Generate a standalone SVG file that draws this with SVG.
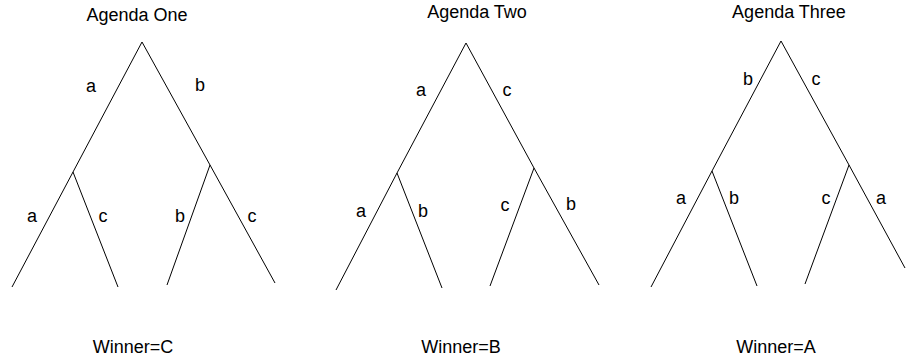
<svg xmlns="http://www.w3.org/2000/svg" width="907" height="360" viewBox="0 0 907 360">
<style>
text{font-family:"Liberation Sans",Arial,sans-serif;font-size:18px;fill:#000;text-anchor:middle}
.e{stroke:#000;stroke-width:1;fill:none}
</style>
<rect width="907" height="360" fill="#fff"/>
<g id="connectors">
<polyline class="e" points="12,287 73,172 142,42 210,165 275,283"/>
<line class="e" x1="73" y1="172" x2="118" y2="287"/>
<line class="e" x1="210" y1="165" x2="167" y2="285"/>
<polyline class="e" points="336,290 397,173 466,43 534,168 599,285"/>
<line class="e" x1="397" y1="173" x2="442" y2="288"/>
<line class="e" x1="534" y1="168" x2="490" y2="286"/>
<polyline class="e" points="651,287 712,171 781,41 849,165 905,268"/>
<line class="e" x1="712" y1="171" x2="757" y2="286"/>
<line class="e" x1="849" y1="165" x2="805" y2="284"/>
</g>
<g id="agenda-one">
<text x="137" y="21">Agenda One</text>
<text x="91" y="92">a</text>
<text x="200" y="91">b</text>
<text x="32" y="222">a</text>
<text x="103" y="222">c</text>
<text x="180" y="222">b</text>
<text x="252" y="222">c</text>
<text x="133" y="353">Winner=C</text>
</g>
<g id="agenda-two">
<text x="477" y="18">Agenda Two</text>
<text x="421" y="96">a</text>
<text x="507" y="96">c</text>
<text x="361" y="217">a</text>
<text x="423" y="217">b</text>
<text x="505" y="211">c</text>
<text x="571" y="210">b</text>
<text x="461" y="353">Winner=B</text>
</g>
<g id="agenda-three">
<text x="789" y="18">Agenda Three</text>
<text x="748" y="85">b</text>
<text x="816" y="85">c</text>
<text x="681" y="204">a</text>
<text x="734" y="204">b</text>
<text x="826" y="204">c</text>
<text x="881" y="204">a</text>
<text x="776" y="353">Winner=A</text>
</g>
</svg>
